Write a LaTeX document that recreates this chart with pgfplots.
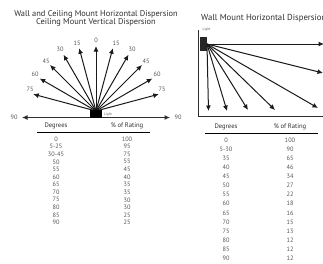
\documentclass[border=0pt]{standalone}
\usepackage{pgfplots}
\pgfplotsset{compat=1.18}
\usepackage{fontspec}
\setmainfont{PT Sans}
\usetikzlibrary{arrows.meta}
\definecolor{txt}{HTML}{2E2E2E}
\definecolor{val}{HTML}{555555}
\definecolor{arr}{HTML}{1A1A1A}
\begin{document}
\begin{tikzpicture}
\begin{axis}[at={(0,0)},anchor=south west,x=1pt,y=1pt,
  xmin=0,xmax=323,ymin=0,ymax=263,y dir=reverse,hide axis,clip=false,
  every axis plot/.append style={line width=1pt,color=arr},
  ar/.style={-{Latex[length=5.5pt,width=5pt]}}]
% ---- left diagram
\addplot[ar] coordinates {(96,111) (96,46)};
\addplot[ar] coordinates {(96,111) (112.8,48.2)};
\addplot[ar] coordinates {(96,111) (79.2,48.2)};
\addplot[ar] coordinates {(96,111) (128.5,54.7)};
\addplot[ar] coordinates {(96,111) (63.5,54.7)};
\addplot[ar] coordinates {(96,111) (142,65)};
\addplot[ar] coordinates {(96,111) (50,65)};
\addplot[ar] coordinates {(96,111) (152.3,78.5)};
\addplot[ar] coordinates {(96,111) (39.7,78.5)};
\addplot[ar] coordinates {(96,111) (158.8,94.2)};
\addplot[ar] coordinates {(96,111) (33.2,94.2)};
\addplot[{Latex[length=5.5pt,width=5pt]}-{Latex[length=5.5pt,width=5pt]},color=txt] coordinates {(22,117.5) (170,117.5)};
\addplot[fill=black,draw=none] coordinates {(90,110) (102,110) (102,118) (90,118)} --cycle;
% ---- right diagram
\addplot[color=txt] coordinates {(198.5,30) (198.5,116) (330,116)};
\addplot[fill=black!85,draw=none] coordinates {(200,37) (207,37) (207,50.5) (200,50.5)} --cycle;
\addplot[ar] coordinates {(207,44) (208.5,111)};
\addplot[ar] coordinates {(207,44) (227,111)};
\addplot[ar] coordinates {(207,44) (248,110)};
\addplot[ar] coordinates {(207,44) (275,110)};
\addplot[ar] coordinates {(207,44) (318,108)};
\addplot[ar] coordinates {(207,44) (323,73)};
\addplot[ar] coordinates {(207,44) (324,44)};
% ---- texts
\begin{scope}[every node/.style={text=txt,font=\fontsize{8.4}{10}\selectfont,inner sep=0pt}]
\node at (axis cs:96,14) {Wall and Ceiling Mount Horizontal Dispersion};
\node at (axis cs:96,22.5) {Ceiling Mount Vertical Dispersion};
\node[anchor=west,font=\fontsize{8.7}{10}\selectfont] at (axis cs:201,18.5) {Wall Mount Horizontal Dispersion};
\end{scope}
\begin{scope}[every node/.style={text=val,font=\fontsize{6.3}{7}\selectfont,inner sep=0pt}]
\node at (axis cs:96,40) {0};
\node at (axis cs:77,43) {15};
\node at (axis cs:116,43) {15};
\node at (axis cs:60,49) {30};
\node at (axis cs:132,49) {30};
\node at (axis cs:46,61) {45};
\node at (axis cs:146,61) {45};
\node at (axis cs:35,74) {60};
\node at (axis cs:157,74) {60};
\node at (axis cs:30,89) {75};
\node at (axis cs:162,89) {75};
\node at (axis cs:14,117) {90};
\node at (axis cs:178,117) {90};
\end{scope}
\begin{scope}[every node/.style={text=val,font=\fontsize{3.5}{4}\selectfont,inner sep=0pt,anchor=west}]
\node at (axis cs:104,115) {Light};
\node at (axis cs:202.5,29.5) {Light};
\end{scope}
% ---- tables
\addplot[color=black,line width=0.8pt] coordinates {(37,132) (150,132)};
\addplot[color=black,line width=0.8pt] coordinates {(205,133.5) (318,133.5)};
\begin{scope}[every node/.style={text=txt,font=\fontsize{6.6}{7}\selectfont,inner sep=0pt}]
\node at (axis cs:56,126) {Degrees};
\node at (axis cs:127,126) {\% of Rating};
\node at (axis cs:226,127) {Degrees};
\node at (axis cs:290,127) {\% of Rating};
\end{scope}
\begin{scope}[every node/.style={text=val,font=\fontsize{6.3}{7}\selectfont,inner sep=0pt}]
\node at (axis cs:56,139) {0};      \node at (axis cs:127,139) {100};
\node at (axis cs:56,146.6) {5-25}; \node at (axis cs:127,146.6) {95};
\node at (axis cs:56,154.2) {30-45};\node at (axis cs:127,154.2) {75};
\node at (axis cs:56,161.8) {50};   \node at (axis cs:127,161.8) {55};
\node at (axis cs:56,169.4) {55};   \node at (axis cs:127,169.4) {45};
\node at (axis cs:56,177) {60};     \node at (axis cs:127,177) {40};
\node at (axis cs:56,184.6) {65};   \node at (axis cs:127,184.6) {35};
\node at (axis cs:56,192.2) {70};   \node at (axis cs:127,192.2) {35};
\node at (axis cs:56,199.8) {75};   \node at (axis cs:127,199.8) {30};
\node at (axis cs:56,207.4) {80};   \node at (axis cs:127,207.4) {30};
\node at (axis cs:56,215) {85};     \node at (axis cs:127,215) {25};
\node at (axis cs:56,222.6) {90};   \node at (axis cs:127,222.6) {25};
\node at (axis cs:226,140) {0};      \node at (axis cs:290,140) {100};
\node at (axis cs:226,149.1) {5-30}; \node at (axis cs:290,149.1) {90};
\node at (axis cs:226,158.2) {35};   \node at (axis cs:290,158.2) {65};
\node at (axis cs:226,167.3) {40};   \node at (axis cs:290,167.3) {46};
\node at (axis cs:226,176.4) {45};   \node at (axis cs:290,176.4) {34};
\node at (axis cs:226,185.5) {50};   \node at (axis cs:290,185.5) {27};
\node at (axis cs:226,194.6) {55};   \node at (axis cs:290,194.6) {22};
\node at (axis cs:226,203.7) {60};   \node at (axis cs:290,203.7) {18};
\node at (axis cs:226,212.8) {65};   \node at (axis cs:290,212.8) {16};
\node at (axis cs:226,221.9) {70};   \node at (axis cs:290,221.9) {15};
\node at (axis cs:226,231) {75};     \node at (axis cs:290,231) {13};
\node at (axis cs:226,240.1) {80};   \node at (axis cs:290,240.1) {12};
\node at (axis cs:226,249.2) {85};   \node at (axis cs:290,249.2) {12};
\node at (axis cs:226,258.3) {90};   \node at (axis cs:290,258.3) {12};
\end{scope}
\end{axis}
\pgfresetboundingbox
\path[use as bounding box] (0,0) rectangle (323pt,263pt);
\end{tikzpicture}
\end{document}
